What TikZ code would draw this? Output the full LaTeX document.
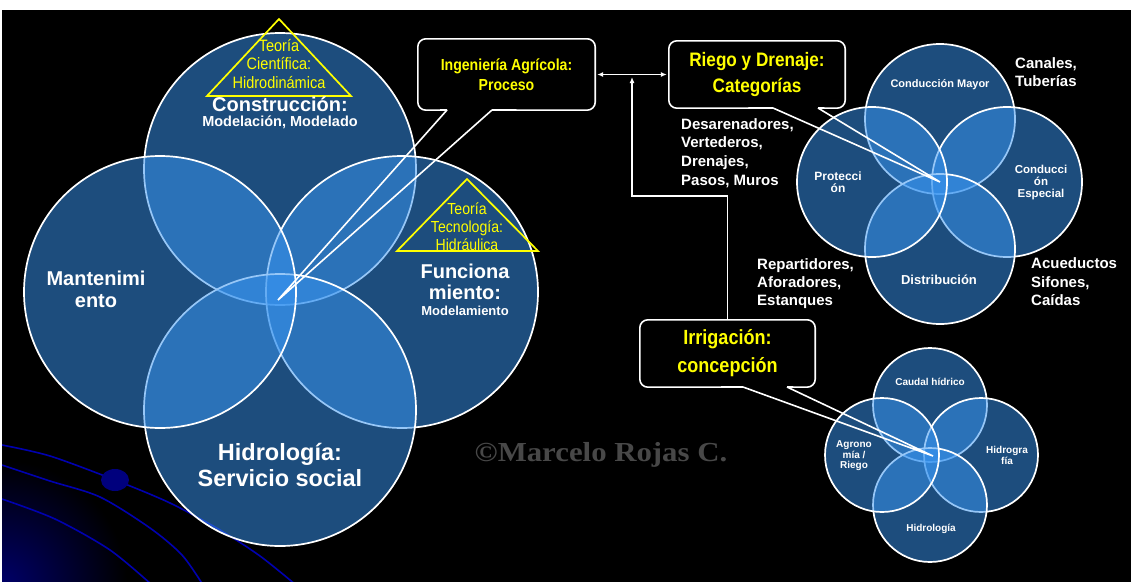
\documentclass[tikz,border=0pt]{standalone}
\usepackage{fontspec}
\setmainfont{Liberation Sans}
\newfontfamily\wmfont{Liberation Serif}[FakeStretch=1.12]
\newfontfamily\narrowfont{Liberation Sans}[FakeStretch=0.88]
\usetikzlibrary{arrows.meta}
\definecolor{vennblue}{RGB}{56,148,240}
\definecolor{tyellow}{RGB}{255,255,0}
\definecolor{decoblue}{RGB}{0,0,175}
\definecolor{dotblue}{RGB}{0,0,125}
\definecolor{glowblue}{RGB}{0,0,105}
\definecolor{wmgray}{RGB}{72,72,72}
\newcommand{\fs}[2]{\fontsize{#1}{#2}\selectfont}
\tikzset{
  venn/.style={circle, inner sep=0pt, fill=vennblue, fill opacity=0.52, draw=white, line width=1.7pt},
  lbl/.style={text=white, align=center, inner sep=0pt, font=\bfseries},
  side/.style={text=white, align=left, inner sep=0pt, anchor=west},
  tri/.style={draw=tyellow, line width=1.7pt, line join=miter},
  trilbl/.style={text=tyellow, align=center, inner sep=0pt},
  boxbg/.style={fill=black, inner sep=0pt, text=tyellow, align=center},
  boxline/.style={draw=white, line width=1.6pt},
  conn/.style={draw=white, line width=1.4pt, >={Latex[length=6pt,width=5pt]}},
  deco/.style={draw=decoblue, line width=1.6pt}
}
\begin{document}
\begin{tikzpicture}[x=1pt,y=-1pt]
\useasboundingbox (0,0) rectangle (1131,581);
\fill[black] (-5,-5) rectangle (1140,590);
\fill[white] (-5,-5) rectangle (1140,10);
\fill[white] (-5,-5) rectangle (2,590);
% bottom-left glow and curves
\begin{scope}
  \clip (2,10) rectangle (1140,590);
  \shade[inner color=glowblue, outer color=black] (2,585) circle (125pt);
  \draw[deco] plot[smooth] coordinates {(2,445) (50,456) (115,480) (170,503) (220,530) (260,556) (296,585)};
  \draw[deco] plot[smooth] coordinates {(2,465) (50,481) (100,497) (150,528) (182,555) (203,585)};
  \draw[deco] plot[smooth] coordinates {(2,499) (55,519) (110,550) (152,585)};
\end{scope}
\fill[dotblue] (115,480) ellipse (14pt and 11pt);

% ---------- left Venn ----------
\node[venn, minimum size=272pt] (ctop) at (280,169) {};
\node[venn, minimum size=272pt] (cright) at (402,292) {};
\node[venn, minimum size=272pt] (cbot) at (280,410) {};
\node[venn, minimum size=272pt] (cleft) at (160,292) {};

\node[trilbl, font=\narrowfont\fs{16.5}{18.5}] (tr1txt) at (279,64) {Teoría\\Científica:\\Hidrodinámica};
\draw[tri] (279,19) -- (351,96) -- (207,96) -- cycle;
\node[trilbl, font=\narrowfont\fs{16}{18}] (tr2txt) at (467,227) {Teoría\\Tecnología:\\Hidráulica};
\draw[tri] (467,179) -- (538,251) -- (397,251) -- cycle;

\node[lbl, font=\bfseries\fs{20}{22}] (lcon) at (280,104) {Construcción:};
\node[lbl, font=\bfseries\fs{14.5}{16}] (lmod) at (280,122) {Modelación, Modelado};
\node[lbl, font=\bfseries\fs{20}{22}] (lman) at (96,289) {Mantenimi\\ento};
\node[lbl, font=\bfseries\fs{20}{21.5}] (lfun) at (465,282) {Funciona\\miento:};
\node[lbl, font=\bfseries\fs{13}{15}] (lmodel) at (465,311) {Modelamiento};
\node[lbl, font=\bfseries\fs{23.5}{25.5}] (lhid) at (280,465) {Hidrología:\\Servicio social};

% watermark
\node[text=wmgray, inner sep=0pt, font=\wmfont\bfseries\fs{27.5}{30}] (wm) at (601,455) {©Marcelo Rojas C.};

% ---------- right-top Venn ----------
\node[venn, minimum size=150pt] (rtop) at (940,119) {};
\node[venn, minimum size=150pt] (rright) at (1007,182) {};
\node[venn, minimum size=150pt] (rbot) at (940,249) {};
\node[venn, minimum size=150pt] (rleft) at (872,182) {};
\node[lbl, font=\bfseries\fs{11}{12}] (rl1) at (940,85) {Conducción Mayor};
\node[lbl, font=\bfseries\fs{12}{12}] (rl2) at (838,182) {Protecci\\ón};
\node[lbl, font=\bfseries\fs{11.5}{12}] (rl3) at (1041,183) {Conducci\\ón\\Especial};
\node[lbl, font=\bfseries\fs{13}{14}] (rl4) at (939,280) {Distribución};

\node[side, font=\bfseries\fs{15}{18}] (s1) at (1015,72) {Canales,\\Tuberías};
\node[side, font=\bfseries\fs{15}{18.6}] (s2) at (681,153) {Desarenadores,\\Vertederos,\\Drenajes,\\Pasos, Muros};
\node[side, font=\bfseries\fs{15}{18}] (s3) at (757,284) {Repartidores,\\Aforadores,\\Estanques};
\node[side, font=\bfseries\fs{15}{18.5}] (s4) at (1031,282) {Acueductos\\Sifones,\\Caídas};

% ---------- right-bottom Venn ----------
\node[venn, minimum size=114pt] (btop) at (930,405) {};
\node[venn, minimum size=114pt] (bright) at (981,455) {};
\node[venn, minimum size=114pt] (bbot) at (930,505) {};
\node[venn, minimum size=114pt] (bleft) at (882,455) {};
\node[lbl, font=\bfseries\fs{10}{11}] (bl1) at (930,382) {Caudal hídrico};
\node[lbl, font=\bfseries\fs{10}{10.5}] (bl2) at (854,456) {Agrono\\mía /\\Riego};
\node[lbl, font=\bfseries\fs{10}{11}] (bl3) at (1007,455) {Hidrogra\\fía};
\node[lbl, font=\bfseries\fs{10}{11}] (bl4) at (931,529) {Hidrología};

% ---------- callout boxes ----------
\node[boxbg, minimum width=177pt, minimum height=71pt, font=\narrowfont\bfseries\fs{16}{20}] (b1) at (506.5,74.5) {Ingeniería Agrícola:\\Proceso};
\node[boxbg, minimum width=176pt, minimum height=67pt, font=\narrowfont\bfseries\fs{19.5}{26}] (b2) at (757,74.5) {Riego y Drenaje:\\Categorías};
\node[boxbg, minimum width=175pt, minimum height=67pt, font=\narrowfont\bfseries\fs{20.5}{28}] (b3) at (727.5,353.5) {Irrigación:\\concepción};

\coordinate (t1) at (278,300);
\coordinate (t2) at (940,182);
\coordinate (t3) at (933,456);
\coordinate (b1l) at (447,110);
\coordinate (b1r) at (492,110);
\coordinate (b2l) at (773,108);
\coordinate (b2r) at (818,108);
\coordinate (b3l) at (743,387);
\coordinate (b3r) at (787,387);

\draw[boxline, rounded corners=8pt] (b1l) -- (b1.south west) -- (b1.north west) -- (b1.north east) -- (b1.south east) -- (b1r);
\draw[boxline, line join=miter] (b1l) -- (t1) -- (b1r);
\draw[boxline, rounded corners=8pt] (b2l) -- (b2.south west) -- (b2.north west) -- (b2.north east) -- (b2.south east) -- (b2r);
\draw[boxline, line join=miter] (b2l) -- (t2) -- (b2r);
\draw[boxline, rounded corners=8pt] (b3l) -- (b3.south west) -- (b3.north west) -- (b3.north east) -- (b3.south east) -- (b3r);
\draw[boxline, line join=miter] (b3l) -- (t3) -- (b3r);

% connectors
\coordinate (k1) at (632,196);
\coordinate (k2) at (632,77);
\draw[conn, <->] ([xshift=2pt]b1.east) -- ([xshift=-2pt]b2.west);
\draw[conn, ->] (b3.north) |- (k1) -- (k2);
\end{tikzpicture}
\end{document}
